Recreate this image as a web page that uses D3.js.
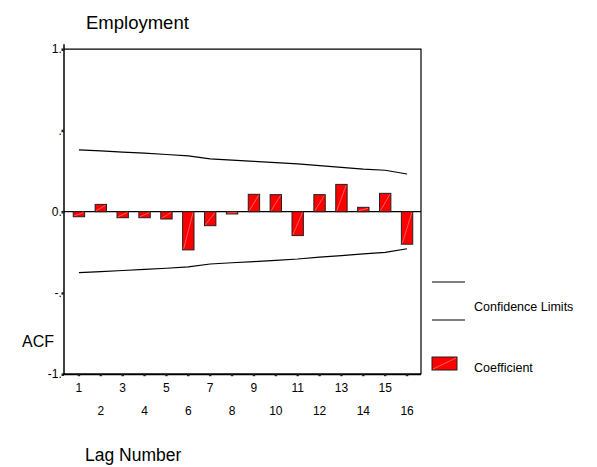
<!DOCTYPE html>
<html>
<head>
<meta charset="utf-8">
<script src="https://cdn.jsdelivr.net/npm/d3@7"></script>
<style>
  body { margin: 0; background: #fff; }
  svg { font-family: "Liberation Sans", Arial, sans-serif; }
</style>
</head>
<body>
<svg id="chart" width="597" height="467"></svg>
<script>
// lag numbers and autocorrelation coefficients
const lags = [1, 2, 3, 4, 5, 6, 7, 8, 9, 10, 11, 12, 13, 14, 15, 16];
const acf = [-0.031, 0.045, -0.037, -0.037, -0.045, -0.235, -0.086, -0.014,
             0.107, 0.105, -0.147, 0.105, 0.168, 0.027, 0.113, -0.200];
const upperLimit = [0.381, 0.374, 0.367, 0.360, 0.352, 0.344, 0.325, 0.317,
                    0.310, 0.302, 0.294, 0.283, 0.273, 0.262, 0.255, 0.232];
const lowerLimit = [-0.375, -0.369, -0.362, -0.355, -0.348, -0.340, -0.322, -0.314,
                    -0.307, -0.299, -0.291, -0.280, -0.270, -0.259, -0.250, -0.228];
const yTicks = [-1, -0.5, 0, 0.5, 1];
const yTickLabels = ["-1.0", "-.5", "0.0", ".5", "1.0"];

const plot = {left: 64, right: 421, top: 49.2, bottom: 374.2};

const svg = d3.select("#chart");

const x = d3.scaleBand()
    .domain(lags)
    .range([68, 418])
    .paddingInner(0.48)
    .paddingOuter(0.24);
const y = d3.scaleLinear()
    .domain([-1, 1])
    .range([plot.bottom, plot.top]);
const cx = d => x(d) + x.bandwidth() / 2;

// title and axis titles
svg.append("text")
    .attr("x", 86).attr("y", 29)
    .style("font-size", "18.5px")
    .text("Employment");
svg.append("text")
    .attr("x", 22).attr("y", 347)
    .style("font-size", "16px")
    .text("ACF");
svg.append("text")
    .attr("x", 85).attr("y", 461)
    .style("font-size", "17.5px")
    .text("Lag Number");

// zero reference line
svg.append("line")
    .attr("x1", plot.left).attr("x2", plot.right)
    .attr("y1", y(0)).attr("y2", y(0))
    .attr("stroke", "#000").attr("stroke-width", 1.2);

// coefficient bars
const bars = svg.append("g");
lags.forEach((lag, i) => {
    const v = acf[i];
    const x0 = x(lag), w = x.bandwidth();
    const yTop = y(Math.max(v, 0)), yBot = y(Math.min(v, 0));
    bars.append("rect")
        .attr("x", x0).attr("y", yTop)
        .attr("width", w).attr("height", yBot - yTop)
        .attr("fill", "#ff0000")
        .attr("stroke", "#222").attr("stroke-width", 1);
    bars.append("line")
        .attr("x1", x0 + 1).attr("y1", yBot - 1)
        .attr("x2", x0 + w - 1).attr("y2", yTop + 1)
        .attr("stroke", "#ff9a9a").attr("stroke-width", 0.6);
});

// confidence limits
const line = d3.line().x((d, i) => cx(lags[i])).y(d => y(d));
[upperLimit, lowerLimit].forEach(arr => {
    svg.append("path")
        .datum(arr)
        .attr("d", line)
        .attr("fill", "none")
        .attr("stroke", "#000")
        .attr("stroke-width", 1.2);
});

// frame: top and right
svg.append("path")
    .attr("d", `M${plot.left},${plot.top}H${plot.right}V${plot.bottom}`)
    .attr("fill", "none").attr("stroke", "#000").attr("stroke-width", 1.2);

// y axis; its labels are cut off at the axis line, as in the original
svg.append("clipPath").attr("id", "yclip")
    .append("rect").attr("x", 0).attr("y", 30).attr("width", 61.5).attr("height", 360);
svg.append("g")
    .attr("clip-path", "url(#yclip)")
    .selectAll("text")
    .data(yTicks)
    .join("text")
    .attr("x", 68.5)
    .attr("y", d => y(d))
    .attr("dy", "0.35em")
    .attr("text-anchor", "end")
    .style("font-size", "12px")
    .text((d, i) => yTickLabels[i]);

const yAxis = svg.append("g")
    .attr("transform", `translate(${plot.left},0)`)
    .call(d3.axisLeft(y)
        .tickValues(yTicks)
        .tickFormat("")
        .tickSize(2.5));
yAxis.select(".domain").attr("stroke-width", 1.5)
    .attr("d", `M0,${plot.top - 5}V${plot.bottom}`);
yAxis.selectAll(".tick line").attr("stroke-width", 2.5).attr("stroke", "#222");

// x axis with alternating label rows
const xAxis = svg.append("g")
    .attr("transform", `translate(0,${plot.bottom})`)
    .call(d3.axisBottom(x).tickSize(2).tickPadding(9));
xAxis.select(".domain")
    .attr("d", `M${plot.left - 1},0H${plot.right}`)
    .attr("stroke-width", 2);
xAxis.selectAll(".tick line").attr("stroke-width", 2.5).attr("stroke", "#222");
xAxis.selectAll(".tick text")
    .style("font-size", "12px")
    .attr("fill", "#000")
    .attr("y", d => d % 2 === 1 ? 9 : 32);

// legend
const legend = svg.append("g");
[282, 320].forEach(ly => {
    legend.append("line")
        .attr("x1", 432).attr("x2", 465)
        .attr("y1", ly).attr("y2", ly)
        .attr("stroke", "#000").attr("stroke-width", 1.2);
});
legend.append("text")
    .attr("x", 474).attr("y", 311)
    .style("font-size", "12.5px")
    .text("Confidence Limits");
legend.append("rect")
    .attr("x", 432).attr("y", 357).attr("width", 25).attr("height", 13)
    .attr("fill", "#ff0000").attr("stroke", "#222").attr("stroke-width", 1);
legend.append("line")
    .attr("x1", 433).attr("y1", 369).attr("x2", 456).attr("y2", 358)
    .attr("stroke", "#ff9a9a").attr("stroke-width", 0.6);
legend.append("text")
    .attr("x", 474).attr("y", 372)
    .style("font-size", "12.5px")
    .text("Coefficient");
</script>
</body>
</html>
